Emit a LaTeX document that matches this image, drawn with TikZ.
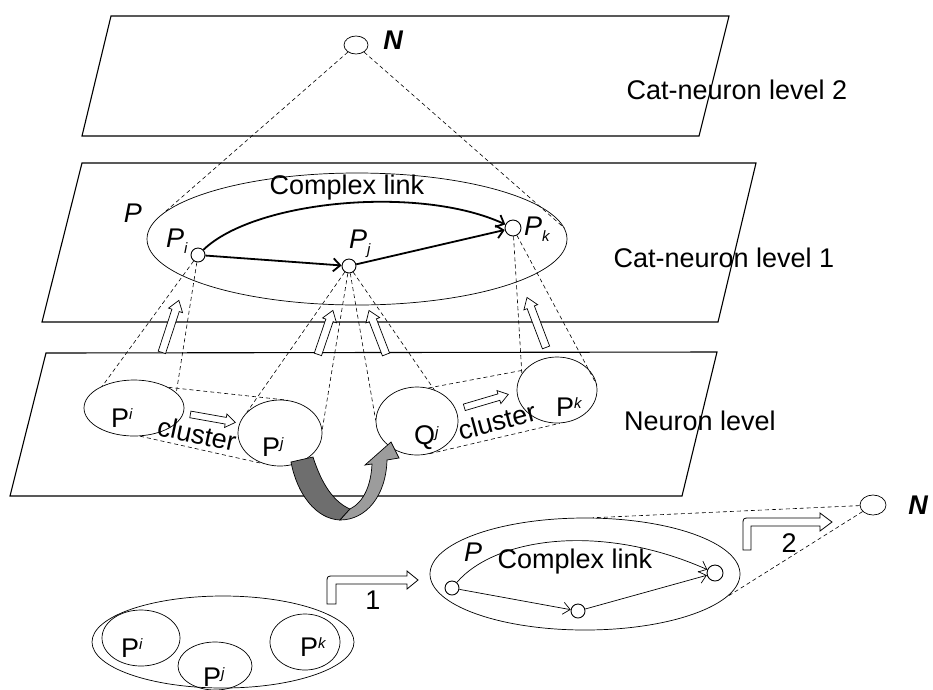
\documentclass[tikz,border=0pt]{standalone}
\usepackage{fontspec}
\setmainfont{Liberation Sans}
\usetikzlibrary{shapes.geometric,shapes.arrows,arrows.meta,calc}

\definecolor{ribbondark}{HTML}{6E6E6E}
\definecolor{ribbonlight}{HTML}{9C9C9C}

\newcommand\supidx[1]{\raisebox{0.55ex}{\fontsize{15}{15}\selectfont\itshape #1}}
\newcommand\subidx[1]{\raisebox{-0.4ex}{\fontsize{15}{15}\selectfont\itshape #1}}
\newcommand\liftarrow[4][hollow]{%
  \path let \p1=($(#4)-(#3)$) in
    node[#1,rotate={atan2(\y1,\x1)},minimum height={veclen(\x1,\y1)}] (#2) at ($(#3)!0.5!(#4)$) {};}

\begin{document}
\begin{tikzpicture}[x=1pt,y=-1pt,
  plane/.style={draw,line width=1.1pt},
  blob/.style={ellipse,draw,line width=0.7pt,inner sep=0pt},
  dot/.style={circle,draw,fill=white,line width=0.9pt,inner sep=0pt,minimum size=14pt},
  proj/.style={dash pattern=on 4pt off 3pt,line width=0.6pt},
  link/.style={line width=1.8pt,-{Straight Barb[length=7pt,width=13pt]}},
  thinlink/.style={line width=0.7pt,-{Straight Barb[length=7pt,width=12pt]}},
  hollow/.style={single arrow,draw,fill=white,line width=0.7pt,inner xsep=0pt,inner ysep=3.5pt,single arrow head extend=3.5pt,single arrow tip angle=70},
  smallhollow/.style={hollow,inner ysep=3pt,single arrow head extend=3.5pt},
  elbow/.style={draw,fill=white,line width=0.8pt},
  lbl/.style={font=\fontsize{27}{30}\selectfont,inner sep=0pt}]
\useasboundingbox (0,0) rectangle (933,689);

% the three levels
\draw[plane] (111,16) -- (729,16) -- (699,136) -- (82,136) -- cycle;
\draw[plane] (82,163) -- (756,163) -- (718,322) -- (42,322) -- cycle;
\draw[plane] (46,353) -- (717,352) -- (682,496) -- (10,496) -- cycle;

\node[lbl] (lev2) at (737,90) {Cat-neuron level 2};
\node[lbl] (lev1) at (724,258) {Cat-neuron level 1};
\node[lbl] (lev0) at (700,421) {Neuron level};

% cat-neuron level 2
\node[blob,minimum width=24pt,minimum height=18pt] (nTop) at (356,45) {};
\node[lbl,font=\fontsize{27}{30}\selectfont\bfseries\itshape] (nTopLbl) at (393,40) {N};

% cat-neuron level 1
\node[blob,minimum width=420pt,minimum height=132pt] (eP) at (357,239) {};
\node[lbl] (ePLbl) at (133,213) {\itshape P};
\node[lbl] (cLink) at (347,188) {Complex link};
\node[dot] (pi) at (198,255) {};
\node[dot] (pj) at (349,266) {};
\node[dot,minimum size=16pt] (pk) at (513,228) {};
\node[lbl,anchor=west] (piLbl) at (166,241) {\itshape P\subidx{i}};
\node[lbl,anchor=west] (pjLbl) at (349,244) {\itshape P\subidx{j}};
\node[lbl,anchor=west] (pkLbl) at (524,229) {\itshape P\subidx{k}};
\draw[link] (pi) -- (pj);
\draw[link] (pj) -- (pk);
\draw[link] (pi) .. controls (255,200) and (420,185) .. (pk);

% neuron level
\node[blob,minimum width=100pt,minimum height=56pt] (ePi) at (134,408) {};
\node[blob,minimum width=84pt,minimum height=66pt] (ePj) at (280,433) {};
\node[blob,minimum width=82pt,minimum height=68pt] (eQj) at (417,421) {};
\node[blob,minimum width=80pt,minimum height=66pt] (ePk) at (557,390) {};
\node[lbl,anchor=west] (ePiLbl) at (111,418) {P\supidx{i}};
\node[lbl,anchor=west] (ePjLbl) at (262,447) {P\supidx{j}};
\node[lbl,anchor=west] (eQjLbl) at (414,438) {Q\supidx{j}};
\node[lbl,anchor=west] (ePkLbl) at (556,407) {P\supidx{k}};
\node[lbl,rotate=-12] (clus1) at (197,434) {cluster};
\node[lbl,rotate=15] (clus2) at (497,421) {cluster};
\liftarrow[smallhollow]{ca1}{188,414}{233,422}
\liftarrow[smallhollow]{ca2}{462,408}{506,395}

\draw[proj] (nTop) -- (eP.172);
\draw[proj] (nTop) -- (eP.3);
\draw[proj] (pi) -- (ePi.145);
\draw[proj] (pi) -- (ePi.20);
\draw[proj] (ePi.31) -- (ePj.77);
\draw[proj] (ePi.282) -- (ePj.242);
\draw[proj] (pj) -- (ePj.148);
\draw[proj] (pj) -- (ePj.4);
\draw[proj] (pj) -- (eQj.179);
\draw[proj] (pj) -- (eQj.61);
\draw[proj] (eQj.71) -- (ePk.148);
\draw[proj] (eQj.291) -- (ePk.275);
\draw[proj] (pk) -- (ePk.155);
\draw[proj] (pk) -- (ePk.7);

\liftarrow{ua1}{161,355}{178,303}
\liftarrow{ua2}{317,357}{332,313}
\liftarrow{ua3}{387,357}{370,313}
\liftarrow{ua4}{547,350}{528,300}

% twisted arrow from P^j to Q^j
\filldraw[fill=ribbondark,line width=0.7pt] (291,462) -- (313,457)
  .. controls (322,485) and (334,502) .. (350,509) -- (340,520)
  .. controls (316,519) and (297,494) .. (291,462) -- cycle;
\filldraw[fill=ribbonlight,line width=0.7pt] (350,509)
  .. controls (364,502) and (371,485) .. (372,464) -- (365,465) -- (391,442)
  -- (399,458) -- (387,460) .. controls (386,496) and (366,520) .. (340,520) -- cycle;

% bottom: group of P^i, P^j, P^k
\node[blob,minimum width=262pt,minimum height=92pt] (grp) at (223,642) {};
\node[blob,minimum width=78pt,minimum height=56pt] (gPi) at (141,638) {};
\node[blob,minimum width=74pt,minimum height=48pt] (gPj) at (215,666) {};
\node[blob,minimum width=70pt,minimum height=56pt] (gPk) at (305,642) {};
\node[lbl,anchor=west] (gPiLbl) at (121,648) {P\supidx{i}};
\node[lbl,anchor=west] (gPjLbl) at (203,677) {P\supidx{j}};
\node[lbl,anchor=west] (gPkLbl) at (300,647) {P\supidx{k}};

\draw[elbow] (327,604) -- (327,583) .. controls (327,576) .. (334,576) -- (407,576)
  -- (407,571) -- (418,580) -- (407,589) -- (407,584) -- (336,584) -- (336,604) -- cycle;
\node[lbl] (step1) at (373,600) {1};

% bottom: complex link P
\node[blob,minimum width=310pt,minimum height=112pt] (eB) at (585,574) {};
\node[lbl] (eBLbl) at (473,552) {\itshape P};
\node[lbl] (bLink) at (575,562) {Complex link};
\node[dot] (bi) at (452,588) {};
\node[dot] (bj) at (578,611) {};
\node[dot,minimum size=16pt] (bk) at (715,573) {};
\draw[thinlink] (bi) -- (bj);
\draw[thinlink] (bj) -- (bk);
\draw[thinlink] (bi) .. controls (495,538) and (600,522) .. (bk);

\draw[elbow] (743,550) -- (743,525) .. controls (743,518) .. (750,518) -- (820,518)
  -- (820,513) -- (832,522) -- (820,531) -- (820,526) -- (751,526) -- (751,550) -- cycle;
\node[lbl] (step2) at (789,543) {2};

\node[blob,minimum width=26pt,minimum height=20pt] (nBot) at (873,505) {};
\node[lbl,font=\fontsize{27}{30}\selectfont\bfseries\itshape] (nBotLbl) at (918,505) {N};
\draw[proj] (nBot) -- (eB.82);
\draw[proj] (nBot) -- (eB.351);
\end{tikzpicture}
\end{document}
